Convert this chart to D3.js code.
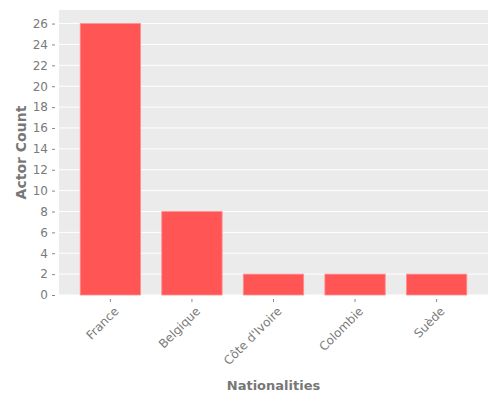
<!DOCTYPE html>
<html>
<head>
<meta charset="utf-8">
<script src="https://cdn.jsdelivr.net/npm/d3@7"></script>
<style>
  body { margin: 0; background: #fff; }
  text { font-family: "DejaVu Sans", sans-serif; }
</style>
</head>
<body>
<svg id="chart"></svg>
<script>
const nationalities = ["France", "Belgique", "Côte d'Ivoire", "Colombie", "Suède"]
const actorCounts = [26, 8, 2, 2, 2]
const yTicks = [0, 2, 4, 6, 8, 10, 12, 14, 16, 18, 20, 22, 24, 26]

const margin = {top: 10, right: 12, bottom: 105, left: 59},
    width = 500 - margin.left - margin.right,
    height = 400 - margin.top - margin.bottom

const svg = d3.select("#chart")
    .attr("width", 500)
    .attr("height", 400)
const g = svg.append("g")
    .attr("transform", "translate(" + margin.left + "," + margin.top + ")")

// panel background
g.append("rect")
    .attr("width", width)
    .attr("height", height)
    .attr("fill", "#EBEBEB")

const x = d3.scaleBand()
    .domain(nationalities)
    .range([0, width])
    .paddingInner(0.26)
    .paddingOuter(0.26)

const y = d3.scaleLinear()
    .domain([0, 26 * 1.05])
    .range([height, 0])

// grid lines
g.selectAll(".grid")
    .data(yTicks)
    .join("line")
    .attr("x1", 0)
    .attr("x2", width)
    .attr("y1", d => y(d))
    .attr("y2", d => y(d))
    .attr("stroke", "#fff")
    .attr("stroke-width", 1)

// bars
g.selectAll(".bar")
    .data(nationalities)
    .join("rect")
    .attr("x", d => x(d))
    .attr("width", x.bandwidth())
    .attr("y", (d, i) => y(actorCounts[i]))
    .attr("height", (d, i) => y(0) - y(actorCounts[i]))
    .attr("fill", "#FF5555")
    .attr("stroke", "#FF9090")
    .attr("stroke-width", 0.8)

// y axis
const yAxis = g.append("g")
    .attr("transform", "translate(-4,0)")
    .call(d3.axisLeft(y).tickValues(yTicks).tickSize(3).tickPadding(4))
yAxis.select(".domain").remove()
yAxis.selectAll("line").attr("stroke", "#888")
yAxis.selectAll("text")
    .attr("fill", "#7a7a7a")
    .style("font-size", "12px")

// x axis
const xAxis = g.append("g")
    .attr("transform", "translate(0," + (height + 4) + ")")
    .call(d3.axisBottom(x).tickSize(3).tickPadding(4))
xAxis.select(".domain").remove()
xAxis.selectAll("line").attr("stroke", "#888")
xAxis.selectAll("text")
    .attr("fill", "#7a7a7a")
    .style("font-size", "12px")
    .style("text-anchor", "end")
    .attr("transform", "translate(6,10) rotate(-45)")
    .attr("dy", "0.35em")
    .attr("y", 0)

// axis titles
svg.append("text")
    .attr("x", margin.left + width / 2)
    .attr("y", 390)
    .attr("text-anchor", "middle")
    .attr("fill", "#777")
    .style("font-size", "13px")
    .style("font-weight", "bold")
    .text("Nationalities")

svg.append("text")
    .attr("transform", "rotate(-90)")
    .attr("x", -(margin.top + height / 2))
    .attr("y", 26)
    .attr("text-anchor", "middle")
    .attr("fill", "#777")
    .style("font-size", "14px")
    .style("font-weight", "bold")
    .text("Actor Count")
</script>
</body>
</html>
